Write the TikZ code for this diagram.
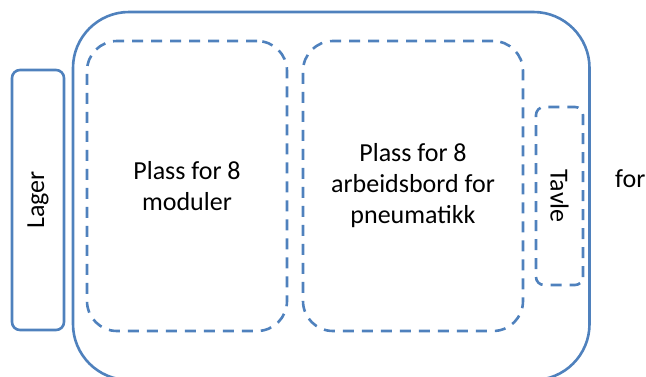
\documentclass[tikz,border=0pt]{standalone}
\usepackage{fontspec}
\setmainfont{Carlito}
\definecolor{ob}{HTML}{4F81BD}
\begin{document}
\begin{tikzpicture}[x=1bp,y=-1bp,
  solidbox/.style={draw=ob, line width=2.6bp, inner sep=0pt},
  dashbox/.style={draw=ob, line width=2.6bp, dash pattern=on 11bp off 8bp, inner sep=0pt},
  lbl/.style={font=\fontsize{26bp}{31bp}\selectfont, align=center, text=black}]
\useasboundingbox (0,0) rectangle (646,376);
\begin{scope}
\clip (0,0) rectangle (646,376);
\node[solidbox, rounded corners=56bp, minimum width=516.5bp, minimum height=368bp] (room) at (331.25,196) {};
\node[solidbox, rounded corners=8bp, rotate=90, minimum width=260bp, minimum height=52bp, lbl] (lager) at (38,200) {Lager};
\node[dashbox, rounded corners=30bp, minimum width=200bp, minimum height=290bp, lbl] (moduler) at (187,186) {Plass for 8\\moduler};
\node[dashbox, rounded corners=30bp, minimum width=220bp, minimum height=290bp, lbl] (arbeid) at (413,186) {Plass for 8\\arbeidsbord for\\pneumatikk};
\node[dashbox, rounded corners=8bp, rotate=-90, minimum width=178bp, minimum height=47bp, lbl] (tavle) at (559.5,196) {Tavle};
\node[lbl, anchor=base west, inner sep=0pt] (for) at (615,187) {for};
\end{scope}
\end{tikzpicture}
\end{document}
